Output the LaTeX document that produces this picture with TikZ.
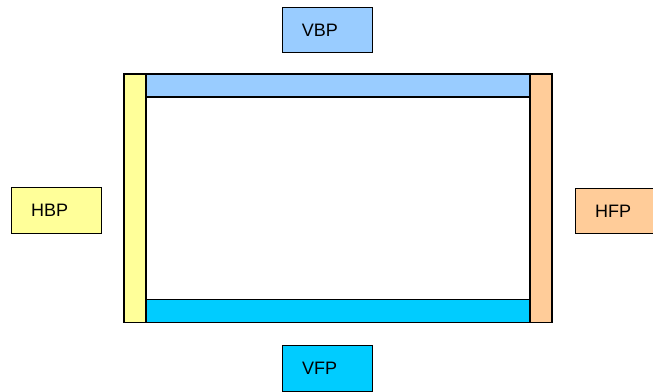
\documentclass[tikz,border=0pt]{standalone}
\usepackage{fontspec}
\setmainfont{Liberation Sans}
\definecolor{lblue}{HTML}{99CCFF}
\definecolor{lyellow}{HTML}{FFFF99}
\definecolor{peach}{HTML}{FFCC99}
\definecolor{cyanb}{HTML}{00CCFF}
\begin{document}
\begin{tikzpicture}[x=1pt,y=-1pt,
  bar/.style={draw=black,line width=1.2pt},
  lbl/.style={draw=black,line width=1.2pt,minimum height=45.5pt,inner ysep=0pt,
    inner xsep=19.5pt,text width=51pt,align=left,font=\fontsize{18}{20}\selectfont,anchor=north west}]
\useasboundingbox (0,0) rectangle (653,391);
% bars
\path[bar,fill=lblue] (146,74) rectangle (530,97);
\path[bar,fill=cyanb] (146,299.5) rectangle (530,322.5);
\path[bar,fill=lyellow] (124,74) rectangle (146,322.5);
\path[bar,fill=peach] (530,74) rectangle (552,322.5);
% labels
\node[lbl,fill=lblue] (vbp) at (281.7,6.5) {VBP};
\node[lbl,fill=lyellow] (hbp) at (11,187) {HBP};
\node[lbl,fill=peach] (hfp) at (575,187.5) {HFP};
\node[lbl,fill=cyanb] (vfp) at (282,345) {VFP};
\end{tikzpicture}
\end{document}
